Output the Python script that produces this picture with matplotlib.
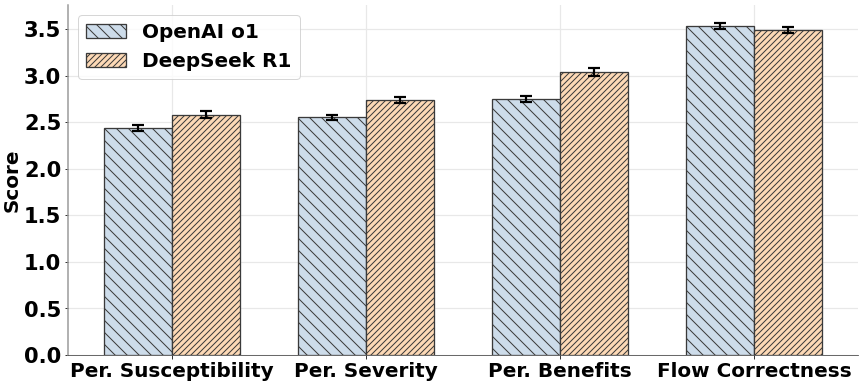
import matplotlib.pyplot as plt
import numpy as np

categories = ["Per. Susceptibility", "Per. Severity", "Per. Benefits", "Flow Correctness"]
o1_scores = [2.44, 2.55, 2.75, 3.53]
o1_err = [0.03, 0.025, 0.035, 0.03]
r1_scores = [2.58, 2.74, 3.04, 3.49]
r1_err = [0.035, 0.03, 0.04, 0.035]

plt.rcParams['font.family'] = 'DejaVu Sans'
plt.rcParams['font.weight'] = 'bold'
plt.rcParams['hatch.linewidth'] = 1.0

# 12 x 5.35 in at 72 dpi -> 864 x 385 px
fig, ax = plt.subplots(figsize=(12, 5.35), dpi=72)
fig.subplots_adjust(left=0.079, right=0.993, top=0.987, bottom=0.078)
x = np.arange(len(categories))
w = 0.35

ekw = dict(elinewidth=2.2, capthick=2.2, ecolor='black')
ax.bar(x - w/2, o1_scores, w, yerr=o1_err, capsize=6, color='#cddcea',
       edgecolor='#3a3a3a', linewidth=1.3, hatch='\\\\', label='OpenAI o1',
       error_kw=ekw, zorder=3)
ax.bar(x + w/2, r1_scores, w, yerr=r1_err, capsize=6, color='#fdd9b6',
       edgecolor='#3a3a3a', linewidth=1.3, hatch='////', label='DeepSeek R1',
       error_kw=ekw, zorder=3)

ax.set_xticks(x)
ax.set_xticklabels(categories, fontsize=20, fontweight='bold')
ax.tick_params(axis='y', labelsize=21)
for lab in ax.get_yticklabels():
    lab.set_fontweight('bold')
ax.set_ylabel('Score', fontsize=20, fontweight='bold', labelpad=2)
ax.set_ylim(0, 3.76)
ax.grid(True, color='#e8e8e8', linewidth=1.2, zorder=0)
ax.spines['top'].set_visible(False)
ax.spines['right'].set_visible(False)
ax.spines['left'].set_color('#999999')
ax.spines['left'].set_linewidth(1.5)
ax.spines['bottom'].set_color('#444444')
ax.legend(loc='upper left', prop={'weight': 'bold', 'size': 20})

plt.savefig('out.png')
